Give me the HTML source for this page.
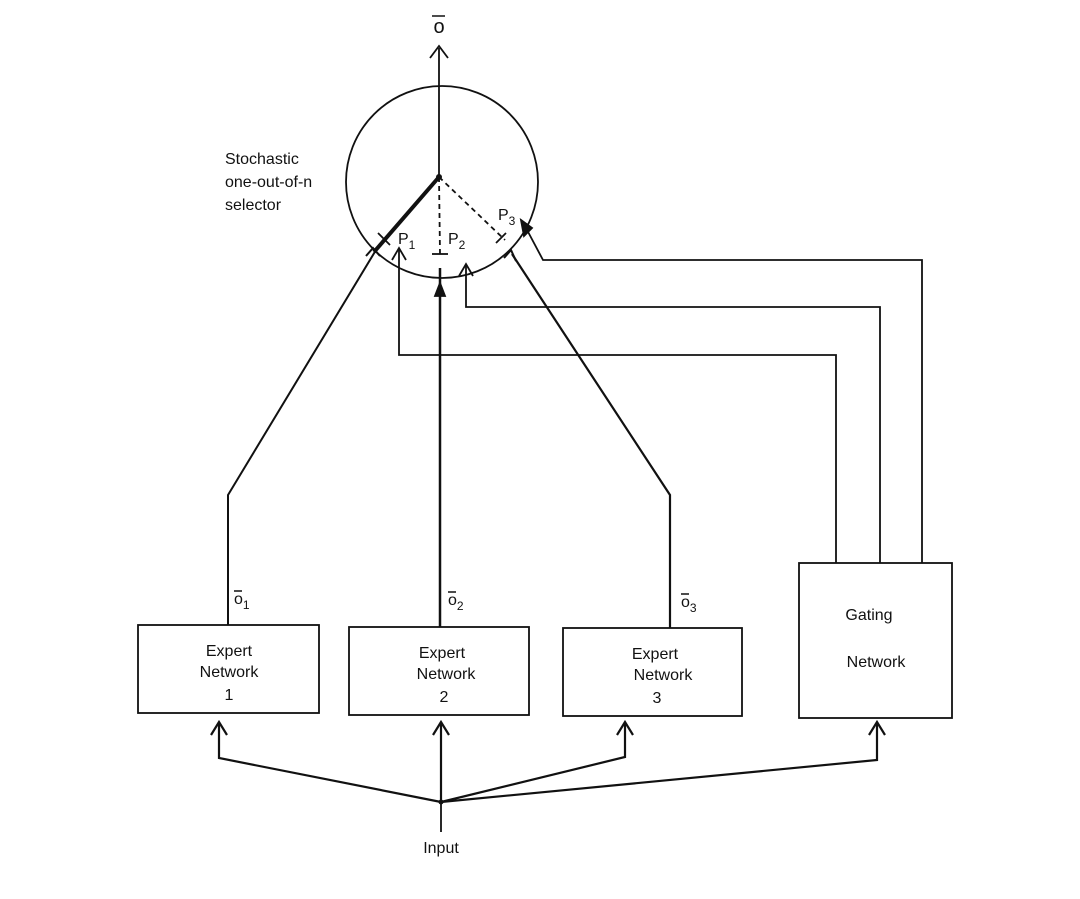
<!DOCTYPE html>
<html><head><style>
body{margin:0;background:#fff;}
svg{display:block;}
text{font-family:"Liberation Sans",sans-serif;fill:#111;}
</style></head><body>
<svg width="1080" height="899" viewBox="0 0 1080 899" xmlns="http://www.w3.org/2000/svg">
<g stroke="#111" fill="none" stroke-width="1.8">
<circle cx="442" cy="182" r="96"/>
<line x1="439" y1="177" x2="439" y2="48"/>
<polyline points="430,58 439,46 448,58"/>
<line x1="439" y1="177" x2="374" y2="252" stroke-width="4"/>
<polyline points="376,250 228,495 228,625" stroke-width="2"/>
<polyline points="366,256 373,248 380,256" stroke-width="2"/>
<line x1="378" y1="233" x2="390" y2="245"/>
<line x1="439" y1="177" x2="440" y2="254" stroke-dasharray="5,4"/>
<line x1="432" y1="254" x2="448" y2="254"/>
<line x1="439" y1="177" x2="505" y2="240" stroke-dasharray="5,4"/>
<line x1="496" y1="243" x2="506" y2="233"/>
<line x1="440" y1="627" x2="440" y2="268" stroke-width="2.5"/>
<polygon points="435,296 440,283 445,296" fill="#111"/>
<polyline points="670,628 670,495 512,254" stroke-width="2.2"/>
<polyline points="504,258 511,250 516,261" stroke-width="2"/>
<polyline points="836,563 836,355 399,355 399,250"/>
<polyline points="392,260 399,248 406,260"/>
<polyline points="880,563 880,307 466,307 466,266"/>
<polyline points="459,276 466,264 473,276"/>
<polyline points="922,563 922,260 543,260 526,228"/>
<polygon points="521,220 532,228 524,236" fill="#111"/>
<rect x="138" y="625" width="181" height="88"/>
<rect x="349" y="627" width="180" height="88"/>
<rect x="563" y="628" width="179" height="88"/>
<rect x="799" y="563" width="153" height="155"/>
<line x1="441" y1="802" x2="441" y2="832"/>
<polyline points="441,802 219,758 219,722" stroke-width="2.2"/>
<polyline points="211,735 219,722 227,735" stroke-width="2.2"/>
<line x1="441" y1="802" x2="441" y2="722" stroke-width="2.2"/>
<polyline points="433,735 441,722 449,735" stroke-width="2.2"/>
<polyline points="441,802 625,757 625,722" stroke-width="2.2"/>
<polyline points="617,735 625,722 633,735" stroke-width="2.2"/>
<polyline points="441,802 877,760 877,722" stroke-width="2.2"/>
<polyline points="869,735 877,722 885,735" stroke-width="2.2"/>
<line x1="234" y1="591" x2="242" y2="591" stroke-width="1.5"/>
<line x1="448" y1="592" x2="456" y2="592" stroke-width="1.5"/>
<line x1="681" y1="594" x2="689" y2="594" stroke-width="1.5"/>
</g>
<circle cx="439" cy="177" r="3" fill="#111"/>
<circle cx="441" cy="802" r="2.5" fill="#111"/>
<text x="439" y="33" text-anchor="middle" font-size="20">o</text>
<line x1="432" y1="16" x2="445" y2="16" stroke="#111" stroke-width="1.5"/>
<g font-size="16">
<text x="225" y="164">Stochastic</text>
<text x="225" y="187">one-out-of-n</text>
<text x="225" y="210">selector</text>
<text x="398" y="244">P<tspan font-size="12" dy="5">1</tspan></text>
<text x="448" y="244">P<tspan font-size="12" dy="5">2</tspan></text>
<text x="498" y="220">P<tspan font-size="12" dy="5">3</tspan></text>
<text x="234" y="604">o<tspan font-size="12" dy="5">1</tspan></text>
<text x="448" y="605">o<tspan font-size="12" dy="5">2</tspan></text>
<text x="681" y="607">o<tspan font-size="12" dy="5">3</tspan></text>
<text x="229" y="656" text-anchor="middle">Expert</text>
<text x="229" y="677" text-anchor="middle">Network</text>
<text x="229" y="700" text-anchor="middle">1</text>
<text x="442" y="658" text-anchor="middle">Expert</text>
<text x="446" y="679" text-anchor="middle">Network</text>
<text x="444" y="702" text-anchor="middle">2</text>
<text x="655" y="659" text-anchor="middle">Expert</text>
<text x="663" y="680" text-anchor="middle">Network</text>
<text x="657" y="703" text-anchor="middle">3</text>
<text x="869" y="620" text-anchor="middle">Gating</text>
<text x="876" y="667" text-anchor="middle">Network</text>
<text x="441" y="853" text-anchor="middle">Input</text>
</g>
</svg>
</body></html>
